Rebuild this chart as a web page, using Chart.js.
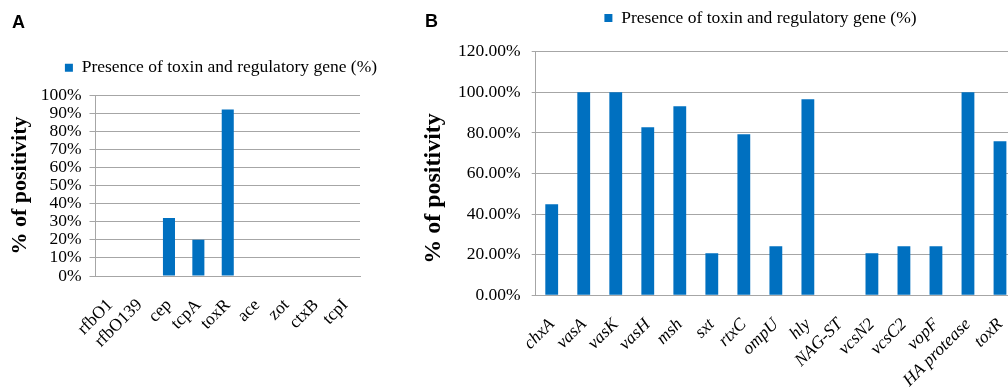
<!DOCTYPE html>
<html>
<head>
<meta charset="utf-8">
<title>Toxin and regulatory genes</title>
<script src="https://cdn.jsdelivr.net/npm/chart.js@4.4.1/dist/chart.umd.min.js"></script>
<style>
  html, body { margin: 0; padding: 0; background: #fff; width: 1008px; height: 387px; overflow: hidden; }
  .panel { position: absolute; top: 0; }
  .tag { position: absolute; font: bold 18px "Liberation Sans", Arial, sans-serif; line-height: 18px; color: #000; }
</style>
</head>
<body>
<div class="panel" style="left:0"><canvas id="chartA" width="442" height="387"></canvas></div>
<div class="panel" style="left:405px"><canvas id="chartB" width="711" height="387"></canvas></div>
<div class="tag" style="left:12px;top:12.5px">A</div>
<div class="tag" style="left:425px;top:12px">B</div>

<script>
// panel A
const genesA = ['rfbO1', 'rfbO139', 'cep', 'tcpA', 'toxR', 'ace', 'zot', 'ctxB', 'tcpI'];
const valuesA = [0, 0, 32, 20, 92, 0, 0, 0, 0];
const ticksA = { max: 100, step: 10 };

// panel B
const genesB = ['chxA', 'vasA', 'vasK', 'vasH', 'msh', 'sxt', 'rtxC', 'ompU', 'hly',
  'NAG-ST', 'vcsN2', 'vcsC2', 'vopF', 'HA protease', 'toxR'];
const valuesB = [44.83, 100, 100, 82.76, 93.1, 20.69, 79.31, 24.14, 96.55,
  0, 20.69, 24.14, 24.14, 100, 75.86];
const ticksB = { max: 120, step: 20 };

const seriesLabel = 'Presence of toxin and regulatory gene (%)';
const axisTitle = '% of positivity';

const SERIF = '"Liberation Serif", "Times New Roman", serif';
const BLUE = '#0070c0';
const GRID = '#a6a6a6';

Chart.defaults.font.family = SERIF;
Chart.defaults.color = '#000';

function drawPanel(id, labels, values, t, s) {
  const ctx = document.getElementById(id).getContext('2d');
  return new Chart(ctx, {
    type: 'bar',
    data: {
      labels: labels,
      datasets: [{
        label: seriesLabel,
        data: values,
        backgroundColor: BLUE,
        borderWidth: 0,
        barPercentage: s.bar,
        categoryPercentage: 1
      }]
    },
    options: {
      responsive: false,
      animation: false,
      layout: { padding: { top: s.top, left: 0, right: 0, bottom: 0 } },
      plugins: {
        legend: {
          position: 'top',
          labels: {
            boxWidth: 8,
            boxHeight: 8,
            padding: s.legendPad,
            color: '#000',
            font: { family: SERIF, size: 17.5 }
          }
        },
        // empty spacer between legend and plot
        subtitle: { display: true, text: '', weight: 500, padding: 0, font: { size: s.gap, lineHeight: 1 } },
        tooltip: { enabled: false }
      },
      scales: {
        x: {
          grid: { display: false },
          border: { color: GRID },
          ticks: {
            autoSkip: false,
            minRotation: 45,
            maxRotation: 45,
            padding: s.xPad,
            color: '#000',
            font: { family: SERIF, size: 17.5, style: s.italic ? 'italic' : 'normal' }
          },
          afterFit: (scale) => { scale.height = s.xHeight; }
        },
        y: {
          min: 0,
          max: t.max,
          ticks: {
            stepSize: t.step,
            autoSkip: false,
            padding: s.yPad,
            color: '#000',
            font: { family: SERIF, size: 17.5, lineHeight: 0.9 },
            callback: (v) => s.decimals ? v.toFixed(2) + '%' : v + '%'
          },
          grid: { color: GRID, tickLength: s.tickLen },
          border: { color: GRID },
          title: {
            display: true,
            text: axisTitle + s.titleTail,
            color: '#000',
            font: { family: SERIF, size: s.titleSize, weight: 'bold' },
            padding: { top: s.titlePad, bottom: 0 }
          },
          afterFit: (scale) => { scale.width = s.yWidth; }
        },
        pad: {
          type: 'linear',
          axis: 'y',
          position: 'right',
          grid: { display: false },
          border: { display: false },
          ticks: { display: false },
          afterFit: (scale) => { scale.width = s.rightWidth; }
        }
      }
    }
  });
}

drawPanel('chartA', genesA, valuesA, ticksA, {
  top: 49, legendPad: 10, gap: 8.5, bar: 0.41,
  xPad: 11, xHeight: 111, italic: false,
  yPad: 8, tickLen: 6, yWidth: 95.5, decimals: false,
  titleSize: 22, titlePad: 6.8, titleTail: '',
  rightWidth: 82
});

drawPanel('chartB', genesB, valuesB, ticksB, {
  top: 4.25, legendPad: 5, gap: 15, bar: 0.4,
  xPad: 11, xHeight: 91.7, italic: true,
  yPad: 11, tickLen: 4, yWidth: 130.7, decimals: true,
  titleSize: 24, titlePad: 14.6, titleTail: '     ',
  rightWidth: 100
});
</script>
</body>
</html>
